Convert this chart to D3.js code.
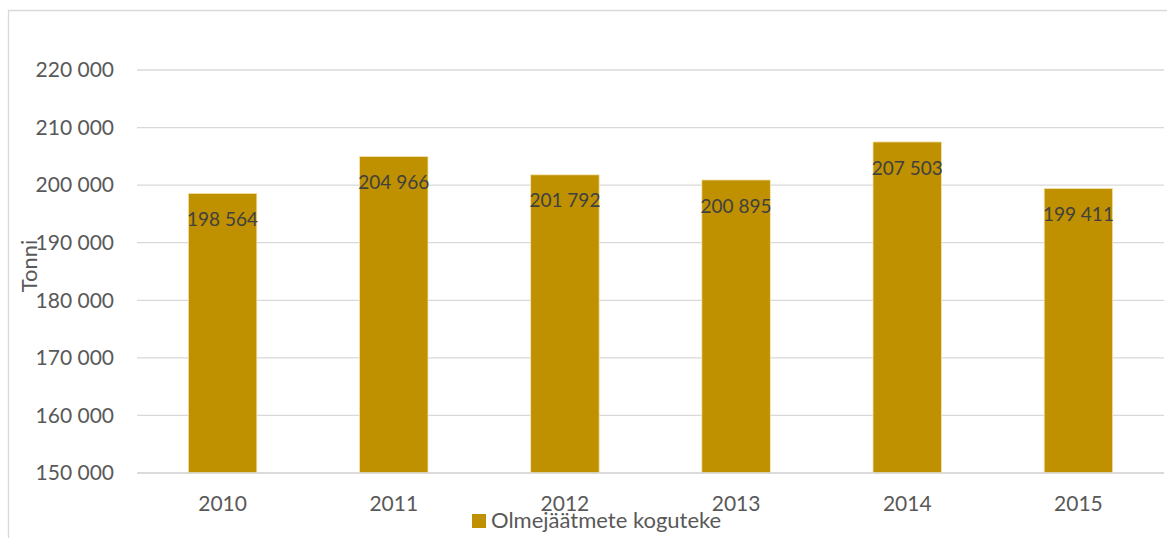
<!DOCTYPE html>
<html>
<head>
<meta charset="utf-8">
<script src="https://cdn.jsdelivr.net/npm/d3@7"></script>
<style>
  html, body { margin: 0; padding: 0; background: #fff; }
  svg { display: block; }
  text { font-family: Lato, "Open Sans", sans-serif; }
</style>
</head>
<body>
<svg id="chart" width="1167" height="538"></svg>
<script>
const categories = ["2010", "2011", "2012", "2013", "2014", "2015"];
const values = [198564, 204966, 201792, 200895, 207503, 199411];
const yTicks = [150000, 160000, 170000, 180000, 190000, 200000, 210000, 220000];
const seriesName = "Olmejäätmete koguteke";
const yTitle = "Tonni";

(function () {
const svg = d3.select("#chart");
const W = 1167, H = 538;
const pLeft = 137, pRight = 1164, pTop = 70, pBottom = 473;
const barColor = "#BF9000";

// chart frame
svg.append("path")
  .attr("d", `M8.5,${H + 2} L8.5,10.5 L${W + 2},10.5`)
  .attr("fill", "none").attr("stroke", "#d9d9d9").attr("stroke-width", 1.3);

const x = d3.scaleBand().domain(categories).range([pLeft, pRight]).paddingInner(0.6).paddingOuter(0.3);
const y = d3.scaleLinear().domain([150000, 220000]).range([pBottom, pTop]);

const fmt = v => d3.format(",")(v).replace(/,/g, " ");

// gridlines
svg.append("g").selectAll("line").data(yTicks).join("line")
  .attr("x1", pLeft).attr("x2", pRight)
  .attr("y1", d => y(d)).attr("y2", d => y(d))
  .attr("stroke", "#d9d9d9").attr("stroke-width", 1.3);

// y axis labels
const yAxis = d3.axisLeft(y).tickValues(yTicks).tickFormat(fmt).tickSize(0).tickPadding(0);
const gy = svg.append("g").attr("transform", `translate(114,0)`).call(yAxis);
gy.select(".domain").remove();
gy.selectAll("text").attr("fill", "#595959").style("font-size", "21px").style("font-family", "Lato, sans-serif");

// bars
svg.append("g").selectAll("rect").data(values).join("rect")
  .attr("x", (d, i) => x(categories[i]))
  .attr("width", x.bandwidth())
  .attr("y", d => y(d))
  .attr("height", d => y(150000) - y(d))
  .attr("fill", barColor)
  .attr("stroke", "#f3e3b0").attr("stroke-width", 0.8);

// redraw baseline over bars
svg.append("line").attr("x1", pLeft).attr("x2", pRight)
  .attr("y1", y(150000)).attr("y2", y(150000))
  .attr("stroke", "#d9d9d9").attr("stroke-width", 1.3);

// data labels
svg.append("g").selectAll("text").data(values).join("text")
  .attr("x", (d, i) => x(categories[i]) + x.bandwidth() / 2)
  .attr("y", d => y(d) + 26)
  .attr("dy", "0.35em")
  .attr("text-anchor", "middle")
  .attr("fill", "#404040")
  .style("font-size", "19px")
  .text(d => fmt(d));

// x axis
const xAxis = d3.axisBottom(x).tickSize(0).tickPadding(0);
const gx = svg.append("g").attr("transform", `translate(0,${pBottom})`).call(xAxis);
gx.select(".domain").remove();
gx.selectAll("text").attr("fill", "#595959").attr("dy", null).attr("y", 38)
  .style("font-size", "21px").style("font-family", "Lato, sans-serif");

// y title
svg.append("text")
  .attr("transform", `translate(37,266) rotate(-90)`)
  .attr("text-anchor", "middle")
  .attr("fill", "#595959")
  .style("font-size", "22px")
  .text(yTitle);

// legend
svg.append("rect").attr("x", 472).attr("y", 514).attr("width", 14).attr("height", 14).attr("fill", barColor);
svg.append("text").attr("x", 491).attr("y", 528)
  .attr("fill", "#595959").style("font-size", "22px").text(seriesName);
})();
</script>
</body>
</html>
